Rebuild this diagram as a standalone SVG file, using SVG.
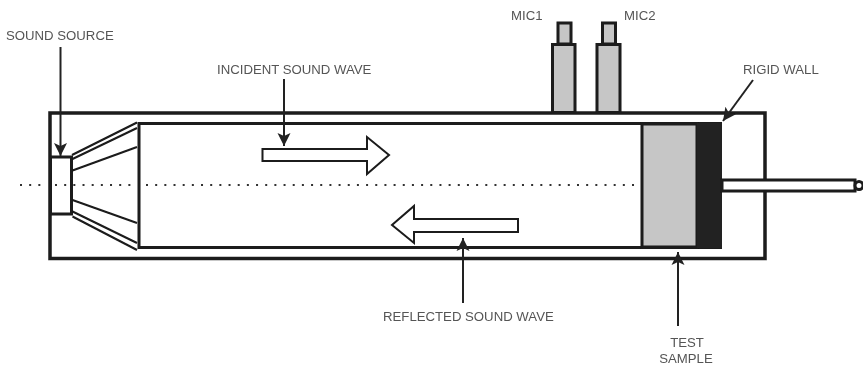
<svg xmlns="http://www.w3.org/2000/svg" width="863" height="365" viewBox="0 0 863 365">
<style>
.o{fill:none;stroke:#1a1a1a;stroke-width:3.5}
.i{fill:none;stroke:#1a1a1a;stroke-width:3}
.h{fill:none;stroke:#1a1a1a;stroke-width:2}
.w{fill:#fff;stroke:#1a1a1a;stroke-width:2}
.g{fill:#c6c6c6;stroke:#1a1a1a;stroke-width:3}
.a{fill:none;stroke:#222;stroke-width:2}
.d{fill:none;stroke:#333;stroke-width:2;stroke-dasharray:2 7.17}
text{font-family:"Liberation Sans",Arial,sans-serif;font-size:13.200px;fill:#555}
</style>
<defs>
<marker id="ah" markerUnits="userSpaceOnUse" markerWidth="14" markerHeight="16" refX="13" refY="7" orient="auto"><path d="M0 0.500L13 7L0 13.500L3 7Z" fill="#222"/></marker>
<filter id="b" x="-2%" y="-2%" width="104%" height="104%"><feGaussianBlur stdDeviation="0.45"/></filter>
</defs>
<rect width="863" height="365" fill="#fff"/>
<g filter="url(#b)">
<g id="tube">
<path class="o" d="M765 180V113H50V258.500H765V191"/>
<path class="i" d="M722 123.500H139V247.500H722"/>
</g>
<g id="sound-source">
<rect x="50.500" y="157" width="21" height="57" fill="#fff" stroke="#1a1a1a" stroke-width="3"/>
<path class="h" d="M72 155L137 122.500M72.500 159L137 128M72.500 170.500L137 147M72.500 200L137 223M72.500 211.500L137 243M72.500 216.500L137 250"/>
</g>
<g id="mic1">
<rect class="g" x="558" y="23" width="13" height="21"/>
<rect class="g" x="552.500" y="44.500" width="22.500" height="68"/>
</g>
<g id="mic2">
<rect class="g" x="602.500" y="23" width="13" height="21"/>
<rect class="g" x="597" y="44.500" width="23" height="68"/>
</g>
<g id="test-sample">
<rect class="g" x="642" y="124" width="55" height="123"/>
</g>
<g id="rigid-wall">
<rect x="697" y="123" width="25" height="125" fill="#222"/>
</g>
<g id="rod">
<rect x="722" y="180" width="133" height="11" fill="#fff" stroke="#1a1a1a" stroke-width="3"/>
<circle cx="859" cy="185.500" r="4" fill="#fff" stroke="#1a1a1a" stroke-width="3"/>
</g>
<g id="incident-wave">
<path class="w" d="M262.500 149H367V137L389 155L367 174V161H262.500Z"/>
</g>
<g id="reflected-wave">
<path class="w" d="M518 219H414V206L392 225L414 243V232H518Z"/>
</g>
<g id="connectors">
<path class="d" d="M20 185H46M55 185H131M146 185H641"/>
<path class="a" marker-end="url(#ah)" d="M60.500 47V156"/>
<path class="a" marker-end="url(#ah)" d="M284 79V146"/>
<path class="a" marker-end="url(#ah)" d="M463 303V238"/>
<path class="a" marker-end="url(#ah)" d="M678 326V252"/>
<path class="a" marker-end="url(#ah)" d="M753 80L723 121"/>
</g>
<g id="labels">
<text x="6" y="40">SOUND SOURCE</text>
<text x="217" y="73.500">INCIDENT SOUND WAVE</text>
<text x="383" y="320.500">REFLECTED SOUND WAVE</text>
<text x="511" y="20">MIC1</text>
<text x="624" y="20">MIC2</text>
<text x="743" y="74">RIGID WALL</text>
<text x="687" y="347" text-anchor="middle">TEST</text>
<text x="686" y="363" text-anchor="middle">SAMPLE</text>
</g>
</g>
</svg>
